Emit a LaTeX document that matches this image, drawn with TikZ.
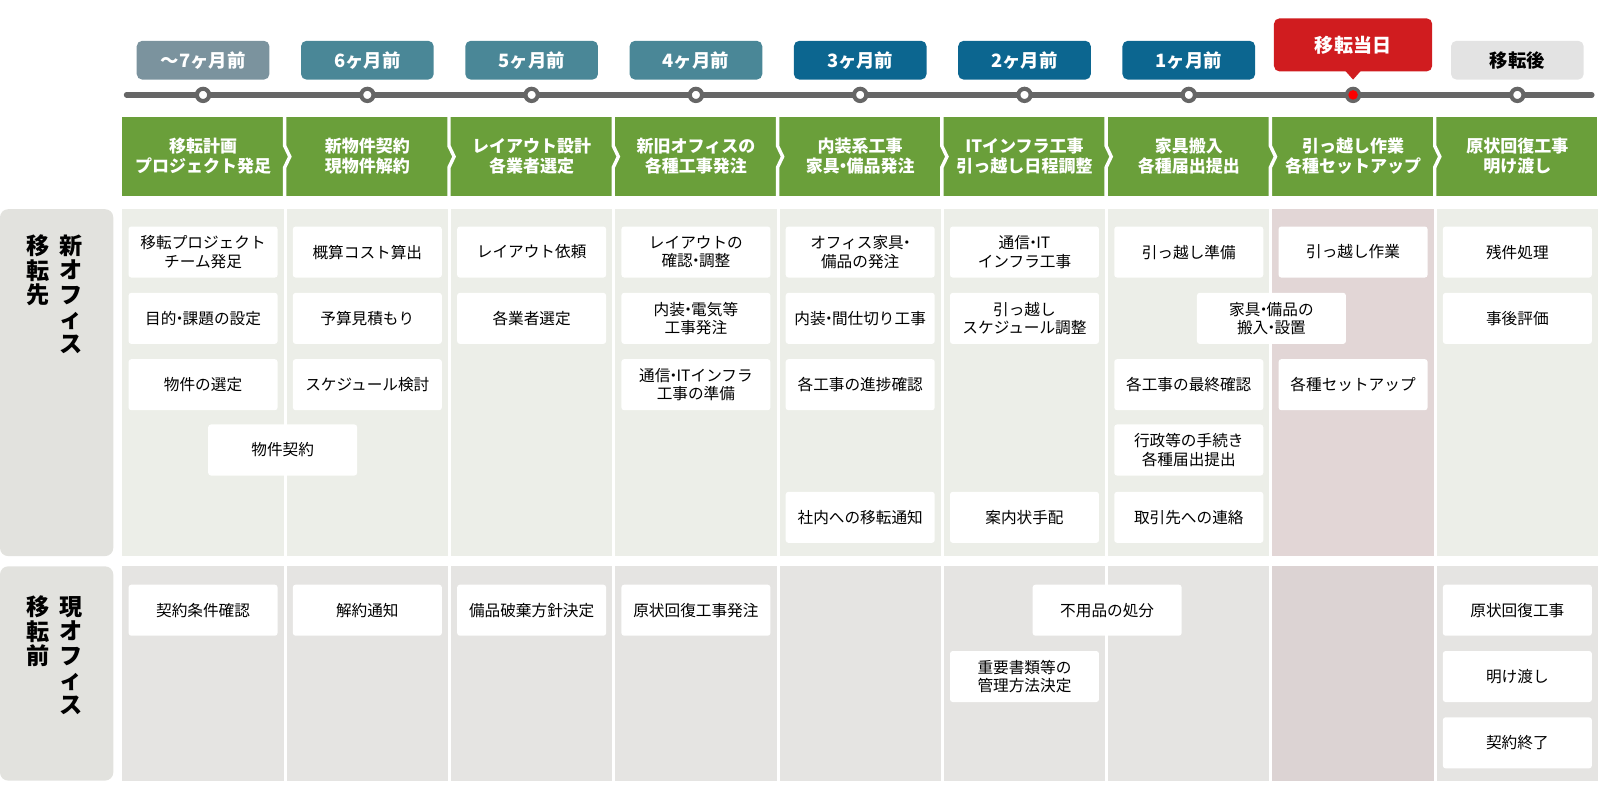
\documentclass[tikz,border=0pt]{standalone}
\usepackage{fontspec}
\setmainfont{Noto Sans CJK JP}
\newcommand{\nk}{\kern-0.3em・\kern-0.3em}
\begin{document}
\begin{tikzpicture}[x=0.75pt,y=-0.75pt,
 box/.style={fill=white,rounded corners=2pt,minimum width=146*0.75pt,minimum height=50*0.75pt,align=center,font=\fontsize{11.5}{13.5}\selectfont,inner sep=0pt},
 tab/.style={rounded corners=4pt,minimum width=130*0.75pt,minimum height=38*0.75pt,text=white,font=\bfseries\fontsize{13.5}{15}\selectfont,inner sep=0pt},
 head/.style={text=white,align=center,font=\bfseries\fontsize{12.5}{14.5}\selectfont},
 side/.style={align=center,font=\bfseries\fontsize{17}{18}\selectfont,inner sep=0pt},
 dot/.style={circle,draw=gray!80!black,line width=3pt,fill=white,minimum size=9pt,inner sep=0pt}]
\definecolor{tg}{HTML}{7B939E}\definecolor{tt}{HTML}{4A8797}\definecolor{tb}{HTML}{0C6690}
\definecolor{tr}{HTML}{D01C1F}\definecolor{grn}{HTML}{6A9F3A}
\definecolor{bg1}{HTML}{ECEEE8}\definecolor{bg2}{HTML}{E5E4E2}\definecolor{pk1}{HTML}{E2D6D6}\definecolor{pk2}{HTML}{DCD3D3}
\definecolor{sd}{HTML}{E2E2DE}
% backgrounds
\fill[sd,rounded corners=6pt] (0,205) rectangle (111,545);
\fill[sd,rounded corners=6pt] (0,555) rectangle (111,765);
\foreach \i in {0,...,8}{
 \pgfmathsetmacro\xa{120+161*\i}
 \ifnum\i=7 \fill[pk1] (\xa,205) rectangle ++(158,340); \fill[pk2] (\xa,555) rectangle ++(158,210);
 \else \fill[bg1] (\xa,205) rectangle ++(158,340); \fill[bg2] (\xa,555) rectangle ++(158,210); \fi}
% timeline
\draw[line width=4pt,gray!80!black,line cap=round] (124,93) -- (1560,93);
\foreach \i in {0,...,8}{\node[dot] (d\i) at (199+161*\i,93) {};}
\fill[red] (d7) circle (3.5pt);
% tabs
\node[tab,fill=tg] (t0) at (199,59) {～7ヶ月前};
\node[tab,fill=tt] (t1) at (360,59) {6ヶ月前};
\node[tab,fill=tt] (t2) at (521,59) {5ヶ月前};
\node[tab,fill=tt] (t3) at (682,59) {4ヶ月前};
\node[tab,fill=tb] (t4) at (843,59) {3ヶ月前};
\node[tab,fill=tb] (t5) at (1004,59) {2ヶ月前};
\node[tab,fill=tb] (t6) at (1165,59) {1ヶ月前};
\node[tab,fill=tr,minimum width=155*0.75pt,minimum height=52*0.75pt,font=\bfseries\fontsize{14}{16}\selectfont] (t7) at (1326,44) {移転当日};
\fill[tr] (1318,69) -- (1334,69) -- (1326,78) -- cycle;
\node[tab,fill=gray!22,text=black] (t8) at (1487,59) {移転後};
% green header band
\fill[grn] (120,115) rectangle (1565,192);
\foreach \i in {1,...,8}{\draw[white,line width=2.5pt] (118+161*\i,113) -- (118+161*\i,143) -- (123+161*\i,153.5) -- (118+161*\i,164) -- (118+161*\i,194);}
\node[head] (h0) at (199,153) {移転計画\\プロジェクト発足};
\node[head] (h1) at (360,153) {新物件契約\\現物件解約};
\node[head] (h2) at (521,153) {レイアウト設計\\各業者選定};
\node[head] (h3) at (682,153) {新旧オフィスの\\各種工事発注};
\node[head] (h4) at (843,153) {内装系工事\\家具\nk 備品発注};
\node[head] (h5) at (1004,153) {ITインフラ工事\\引っ越し日程調整};
\node[head] (h6) at (1165,153) {家具搬入\\各種届出提出};
\node[head] (h7) at (1326,153) {引っ越し作業\\各種セットアップ};
\node[head] (h8) at (1487,153) {原状回復工事\\明け渡し};
% side labels
\node[side,anchor=north] (s1a) at (70,230) {新\\オ\\フ\\ィ\\ス};
\node[side,anchor=north] (s1b) at (37,230) {移\\転\\先};
\node[side,anchor=north] (s2a) at (70,584) {現\\オ\\フ\\ィ\\ス};
\node[side,anchor=north] (s2b) at (37,584) {移\\転\\前};
% section 1 boxes
\node[box] (a00) at (199,247) {移転プロジェクト\\チーム発足};
\node[box] (a01) at (199,312) {目的\nk 課題の設定};
\node[box] (a02) at (199,377) {物件の選定};
\node[box] (a03) at (277,441) {物件契約};
\node[box] (a10) at (360,247) {概算コスト算出};
\node[box] (a11) at (360,312) {予算見積もり};
\node[box] (a12) at (360,377) {スケジュール検討};
\node[box] (a20) at (521,247) {レイアウト依頼};
\node[box] (a21) at (521,312) {各業者選定};
\node[box] (a30) at (682,247) {レイアウトの\\確認\nk 調整};
\node[box] (a31) at (682,312) {内装\nk 電気等\\工事発注};
\node[box] (a32) at (682,377) {通信\nk ITインフラ\\工事の準備};
\node[box] (a40) at (843,247) {オフィス家具\nk\\備品の発注};
\node[box] (a41) at (843,312) {内装\nk 間仕切り工事};
\node[box] (a42) at (843,377) {各工事の進捗確認};
\node[box] (a44) at (843,507) {社内への移転通知};
\node[box] (a50) at (1004,247) {通信\nk IT\\インフラ工事};
\node[box] (a51) at (1004,312) {引っ越し\\スケジュール調整};
\node[box] (a54) at (1004,507) {案内状手配};
\node[box] (a60) at (1165,247) {引っ越し準備};
\node[box] (a61) at (1246,312) {家具\nk 備品の\\搬入\nk 設置};
\node[box] (a62) at (1165,377) {各工事の最終確認};
\node[box] (a63) at (1165,441) {行政等の手続き\\各種届出提出};
\node[box] (a64) at (1165,507) {取引先への連絡};
\node[box] (a70) at (1326,247) {引っ越し作業};
\node[box] (a72) at (1326,377) {各種セットアップ};
\node[box] (a80) at (1487,247) {残件処理};
\node[box] (a81) at (1487,312) {事後評価};
% section 2 boxes
\node[box] (b00) at (199,598) {契約条件確認};
\node[box] (b10) at (360,598) {解約通知};
\node[box] (b20) at (521,598) {備品破棄方針決定};
\node[box] (b30) at (682,598) {原状回復工事発注};
\node[box] (b50) at (1085,598) {不用品の処分};
\node[box] (b51) at (1004,663) {重要書類等の\\管理方法決定};
\node[box] (b80) at (1487,598) {原状回復工事};
\node[box] (b81) at (1487,663) {明け渡し};
\node[box] (b82) at (1487,728) {契約終了};
\pgfresetboundingbox
\path[use as bounding box] (0,0) rectangle (1568,784);
\end{tikzpicture}
\end{document}
